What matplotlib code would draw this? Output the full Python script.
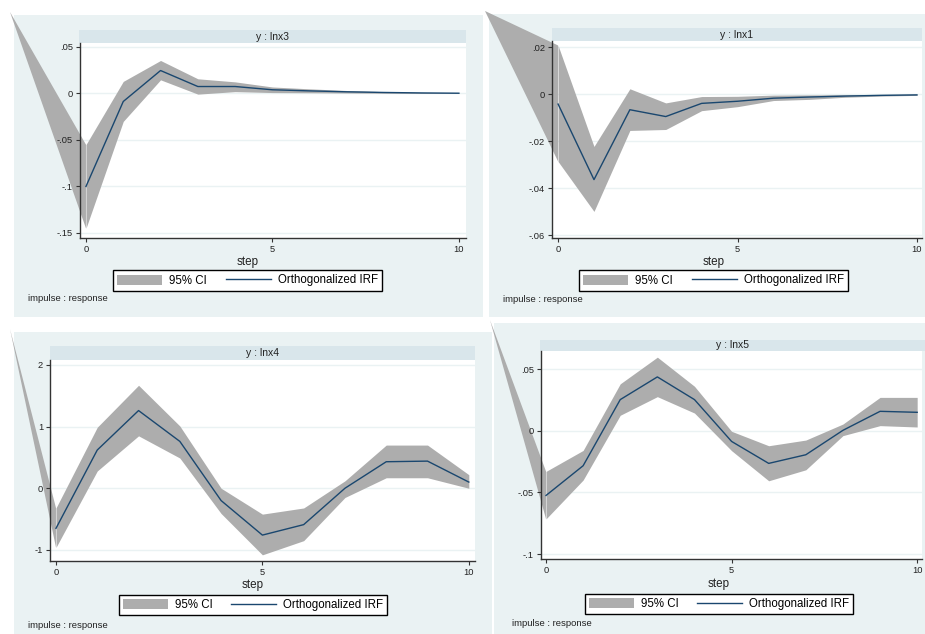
import matplotlib
matplotlib.use("Agg")
import matplotlib.pyplot as plt
from matplotlib.patches import Rectangle, Polygon, Patch
from matplotlib.lines import Line2D

plt.rcParams['font.family'] = ['Liberation Sans', 'DejaVu Sans']

# impulse-response estimates, steps 0..10
steps = list(range(11))

lnx3_irf = [-0.100, -0.0086, 0.0247, 0.0075, 0.0075, 0.0040, 0.0028, 0.0018, 0.0011, 0.0006, 0.0003]
lnx3_hi = [-0.055, 0.0130, 0.0355, 0.0158, 0.0125, 0.0070, 0.0050, 0.0032, 0.0020, 0.0011, 0.0006]
lnx3_lo = [-0.145, -0.0300, 0.0147, -0.0007, 0.0020, 0.0010, 0.0008, 0.0005, 0.0002, 0.0001, 0.0000]

lnx1_irf = [-0.0042, -0.0363, -0.0066, -0.0095, -0.0039, -0.0030, -0.0017, -0.0012, -0.0008, -0.0005, -0.0003]
lnx1_hi = [0.0207, -0.0222, 0.0023, -0.0037, -0.0010, -0.0009, -0.0004, -0.0003, -0.0002, -0.0001, 0.0000]
lnx1_lo = [-0.0286, -0.0498, -0.0154, -0.0150, -0.0070, -0.0053, -0.0027, -0.0022, -0.0013, -0.0008, -0.0005]

lnx4_irf = [-0.65, 0.62, 1.26, 0.76, -0.20, -0.76, -0.59, 0.00, 0.43, 0.44, 0.10]
lnx4_hi = [-0.32, 0.99, 1.67, 1.01, 0.00, -0.42, -0.32, 0.12, 0.70, 0.70, 0.22]
lnx4_lo = [-0.96, 0.28, 0.85, 0.49, -0.41, -1.08, -0.85, -0.15, 0.17, 0.17, 0.00]

lnx5_irf = [-0.0525, -0.0284, 0.0252, 0.0436, 0.0252, -0.0087, -0.0265, -0.0195, 0.0003, 0.0157, 0.0149]
lnx5_hi = [-0.0330, -0.0160, 0.0380, 0.0596, 0.0360, -0.0005, -0.0122, -0.0076, 0.0054, 0.0270, 0.0270]
lnx5_lo = [-0.0715, -0.0400, 0.0125, 0.0276, 0.0143, -0.0162, -0.0406, -0.0317, -0.0040, 0.0041, 0.0030]

titles = ["y : lnx3", "y : lnx1", "y : lnx4", "y : lnx5"]
yticks = [[0.05, 0, -0.05, -0.1, -0.15],
          [0.02, 0, -0.02, -0.04, -0.06],
          [2, 1, 0, -1],
          [0.05, 0, -0.05, -0.1]]
xticks = [0, 5, 10]

W, H = 925, 634
BG = '#EAF2F3'
STRIP = '#D9E6EB'
CI = '#ADADAD'
NAVY = '#1A476F'


def frac(x0, y0, x1, y1):
    # pixel box (top-left origin) -> figure fraction rect
    return [x0 / W, 1 - y1 / H, (x1 - x0) / W, (y1 - y0) / H]


def stata_fmt(v):
    s = "{:g}".format(v)
    if s.startswith("0."):
        s = s[1:]
    elif s.startswith("-0."):
        s = "-" + s[2:]
    return s


panels = [
    dict(irf=lnx3_irf, lo=lnx3_lo, hi=lnx3_hi,
         bg=(14, 15, 483, 317), strip=(79, 30, 466, 43), plot=(80, 43, 466, 238),
         xlim=(-0.16, 10.19), ylim=(-0.1554, 0.0543),
         step=(248, 262), leg=(247.5, 280.5), imp=(28, 299)),
    dict(irf=lnx1_irf, lo=lnx1_lo, hi=lnx1_hi,
         bg=(489, 14, 925, 317), strip=(552, 28, 922, 41), plot=(552, 41, 922, 238),
         xlim=(-0.17, 10.14), ylim=(-0.0611, 0.0226),
         step=(714, 262), leg=(713.5, 280.5), imp=(503, 300)),
    dict(irf=lnx4_irf, lo=lnx4_lo, hi=lnx4_hi,
         bg=(14, 332, 492, 634), strip=(50, 346, 475, 360), plot=(50, 360, 475, 561),
         xlim=(-0.145, 10.15), ylim=(-1.18, 2.08),
         step=(253, 585), leg=(253, 605), imp=(28, 625)),
    dict(irf=lnx5_irf, lo=lnx5_lo, hi=lnx5_hi,
         bg=(494, 323, 925, 634), strip=(540, 340, 925, 351), plot=(541, 351, 922, 559),
         xlim=(-0.135, 10.13), ylim=(-0.104, 0.0646),
         step=(719, 584), leg=(719, 604), imp=(512, 624)),
]

fig = plt.figure(figsize=(W / 100, H / 100), dpi=100)
fig.patch.set_facecolor('white')

for i, p in enumerate(panels):
    x0, y0, x1, y1 = p['bg']
    fig.patches.append(Rectangle((x0 / W, 1 - y1 / H), (x1 - x0) / W, (y1 - y0) / H,
                                 transform=fig.transFigure, facecolor=BG,
                                 edgecolor='none', zorder=-2))

    sax = fig.add_axes(frac(*p['strip']))
    sax.set_facecolor(STRIP)
    sax.set_xticks([])
    sax.set_yticks([])
    for sp in sax.spines.values():
        sp.set_visible(False)
    sax.text(0.5, 0.5, titles[i], ha='center', va='center', fontsize=7.5,
             color='#222222', transform=sax.transAxes)

    ax = fig.add_axes(frac(*p['plot']))
    ax.set_facecolor('white')
    ax.set_xlim(*p['xlim'])
    ax.set_ylim(*p['ylim'])
    for yv in yticks[i]:
        ax.axhline(yv, color=BG, lw=1.0, zorder=0.5)
    ax.fill_between(steps, p['lo'], p['hi'], color=CI, lw=0, zorder=1)
    ax.plot(steps, p['irf'], color=NAVY, lw=1.0, zorder=2)

    # stray spur of the CI band running off to the panel's corner
    apex_fig = ((x0 - 4) / W, 1 - (y0 - 3) / H)
    apex = ax.transData.inverted().transform(fig.transFigure.transform(apex_fig))
    spur = Polygon([apex, (steps[0], p['hi'][0]), (steps[0], p['lo'][0])],
                   closed=True, facecolor=CI, edgecolor='none', clip_on=False, zorder=1)
    ax.add_patch(spur)

    ax.set_yticks(yticks[i])
    ax.set_yticklabels([stata_fmt(v) for v in yticks[i]])
    ax.set_xticks(xticks)
    ax.set_xticklabels([str(v) for v in xticks])
    ax.tick_params(axis='both', length=3, width=0.8, color='#333333',
                   labelsize=6.7, labelcolor='#222222', pad=2)
    ax.spines['top'].set_visible(False)
    ax.spines['right'].set_visible(False)
    for side in ('left', 'bottom'):
        ax.spines[side].set_color('#333333')
        ax.spines[side].set_linewidth(1.0)

    sx, sy = p['step']
    fig.text(sx / W, 1 - sy / H, 'step', ha='center', va='center', fontsize=8.4,
             color='#222222')

    ix, iy = p['imp']
    fig.text(ix / W, 1 - iy / H, 'impulse : response', ha='left', va='center',
             fontsize=6.8, color='#222222')

    lx, ly = p['leg']
    handles = [Patch(facecolor=CI, edgecolor='none'),
               Line2D([], [], color=NAVY, lw=1.0)]
    leg = fig.legend(handles=handles, labels=['95% CI', 'Orthogonalized IRF'],
                     ncol=2, loc='center', bbox_to_anchor=(lx / W, 1 - ly / H),
                     fontsize=8.3, frameon=True, fancybox=False, edgecolor='black',
                     framealpha=1, handlelength=3.9, handleheight=0.95,
                     handletextpad=0.6, columnspacing=1.65, borderpad=0.35,
                     borderaxespad=0)
    leg.get_frame().set_linewidth(1.0)
    leg.get_frame().set_facecolor('white')

fig.savefig('out.png', dpi=100)
